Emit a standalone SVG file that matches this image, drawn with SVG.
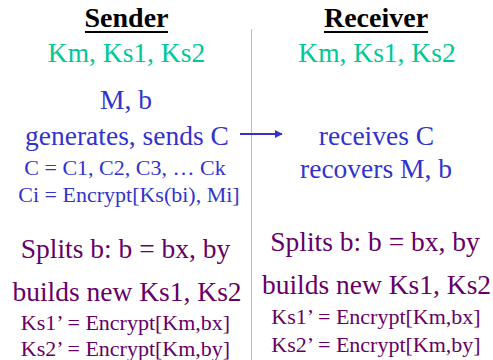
<svg xmlns="http://www.w3.org/2000/svg" width="493" height="360" viewBox="0 0 493 360">
  <defs>
    <marker id="head" viewBox="0 0 10 10" refX="9" refY="5" markerWidth="4" markerHeight="4" orient="auto">
      <path d="M0,0 L10,5 L0,10 Z" fill="#3333CC"/>
    </marker>
  </defs>
  <rect width="493" height="360" fill="#FFFFFF"/>

  <g id="connectors">
    <line x1="251.5" y1="29" x2="251.5" y2="360" stroke="#BBBBBB" stroke-width="1"/>
    <line x1="240" y1="134" x2="282" y2="134" stroke="#3333CC" stroke-width="2" marker-end="url(#head)"/>
  </g>

  <g id="sender">
    <text font-family="Liberation Serif" font-size="28" font-weight="bold" fill="#000000" text-anchor="middle" x="126.5" y="27">Sender</text>
    <line x1="85" y1="32" x2="168" y2="32" stroke="#000000" stroke-width="2"/>
    <text font-family="Liberation Serif" font-size="27.5" fill="#00C896" text-anchor="middle" x="126.5" y="62">Km, Ks1, Ks2</text>
    <text font-family="Liberation Serif" font-size="27.5" fill="#3333CC" text-anchor="middle" x="126" y="109">M, b</text>
    <text font-family="Liberation Serif" font-size="27.5" fill="#3333CC" text-anchor="middle" x="127" y="145">generates, sends C</text>
    <text font-family="Liberation Serif" font-size="22" fill="#3333CC" text-anchor="middle" x="125" y="175">C = C1, C2, C3, &#8230; Ck</text>
    <text font-family="Liberation Serif" font-size="22" fill="#3333CC" text-anchor="middle" x="129" y="202">Ci = Encrypt[Ks(bi), Mi]</text>
    <text font-family="Liberation Serif" font-size="27.5" fill="#660066" text-anchor="middle" x="125.5" y="258">Splits b: b = bx, by</text>
    <text font-family="Liberation Serif" font-size="27.5" fill="#660066" text-anchor="middle" x="127" y="301">builds new Ks1, Ks2</text>
    <text font-family="Liberation Serif" font-size="22" fill="#660066" text-anchor="middle" x="125.5" y="330">Ks1&#8217; = Encrypt[Km,bx]</text>
    <text font-family="Liberation Serif" font-size="22" fill="#660066" text-anchor="middle" x="125.5" y="356">Ks2&#8217; = Encrypt[Km,by]</text>
  </g>

  <g id="receiver">
    <text font-family="Liberation Serif" font-size="28" font-weight="bold" fill="#000000" text-anchor="middle" x="376" y="27">Receiver</text>
    <line x1="324" y1="32" x2="428" y2="32" stroke="#000000" stroke-width="2"/>
    <text font-family="Liberation Serif" font-size="27.5" fill="#00C896" text-anchor="middle" x="377" y="62">Km, Ks1, Ks2</text>
    <text font-family="Liberation Serif" font-size="27.5" fill="#3333CC" text-anchor="middle" x="376.5" y="145">receives C</text>
    <text font-family="Liberation Serif" font-size="27.5" fill="#3333CC" text-anchor="middle" x="376" y="178">recovers M, b</text>
    <text font-family="Liberation Serif" font-size="27.5" fill="#660066" text-anchor="middle" x="375" y="251">Splits b: b = bx, by</text>
    <text font-family="Liberation Serif" font-size="27.5" fill="#660066" text-anchor="middle" x="376.5" y="294">builds new Ks1, Ks2</text>
    <text font-family="Liberation Serif" font-size="22" fill="#660066" text-anchor="middle" x="376" y="324">Ks1&#8217; = Encrypt[Km,bx]</text>
    <text font-family="Liberation Serif" font-size="22" fill="#660066" text-anchor="middle" x="376" y="352">Ks2&#8217; = Encrypt[Km,by]</text>
  </g>
</svg>
